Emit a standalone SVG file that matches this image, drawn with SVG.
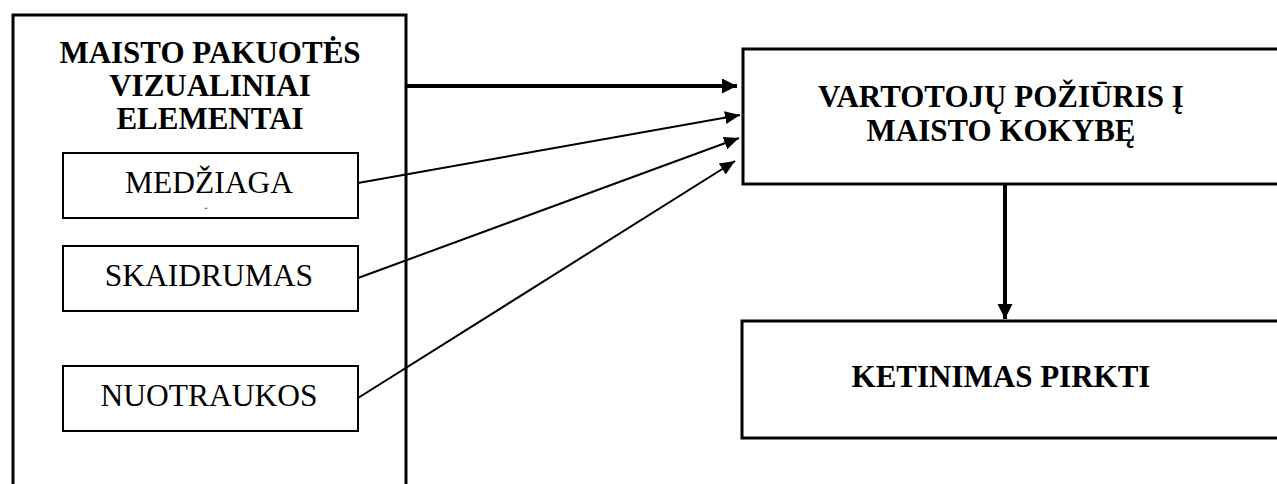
<svg xmlns="http://www.w3.org/2000/svg" width="1277" height="484" viewBox="0 0 1277 484">
<style>
.box{fill:#fff;stroke:#000;stroke-width:3}
.sub{fill:#fff;stroke:#000;stroke-width:2}
.tb{font-family:"Liberation Serif","Times New Roman",serif;font-weight:bold;font-size:31px;text-anchor:middle;fill:#000}
.tr{font-family:"Liberation Serif","Times New Roman",serif;font-size:31.5px;text-anchor:middle;fill:#000}
.thick{stroke:#000;stroke-width:4;fill:none}
.thin{stroke:#000;stroke-width:2;fill:none}
</style>
<defs>
<marker id="ahThick" markerUnits="userSpaceOnUse" markerWidth="16" markerHeight="16" refX="15" refY="7.5" orient="auto">
<path d="M0,0 L15,7.5 L0,15 z" fill="#000"/>
</marker>
<marker id="ahThin" markerUnits="userSpaceOnUse" markerWidth="16" markerHeight="14" refX="15" refY="6.5" orient="auto">
<path d="M0,0 L15,6.5 L0,13 z" fill="#000"/>
</marker>
</defs>
<g id="visual-elements">
<rect class="box" x="13" y="15" width="393" height="490"/>
<text class="tb" x="210" y="63">MAISTO PAKUOTĖS</text>
<text class="tb" x="210" y="96">VIZUALINIAI</text>
<text class="tb" x="210" y="129">ELEMENTAI</text>
</g>
<g id="medziaga">
<rect class="sub" x="63" y="153" width="295" height="65"/>
<text class="tr" x="209" y="193">MEDŽIAGA</text>
<text class="tr" x="206" y="214" style="font-size:9px">ˇ</text>
</g>
<g id="skaidrumas">
<rect class="sub" x="63" y="246" width="295" height="65"/>
<text class="tr" x="209" y="286">SKAIDRUMAS</text>
</g>
<g id="nuotraukos">
<rect class="sub" x="63" y="366" width="295" height="65"/>
<text class="tr" x="209" y="406">NUOTRAUKOS</text>
</g>
<g id="attitude">
<rect class="box" x="743" y="49" width="560" height="135"/>
<text class="tb" x="1001" y="107">VARTOTOJŲ POŽIŪRIS Į</text>
<text class="tb" x="1001" y="141">MAISTO KOKYBĘ</text>
</g>
<g id="intention">
<rect class="box" x="742" y="321" width="560" height="117"/>
<text class="tb" x="1001" y="387">KETINIMAS PIRKTI</text>
</g>
<g id="connectors">
<line class="thick" x1="406" y1="86" x2="737" y2="86" marker-end="url(#ahThick)"/>
<line class="thin" x1="358" y1="183" x2="740" y2="115" marker-end="url(#ahThin)"/>
<line class="thin" x1="358" y1="278" x2="739" y2="138" marker-end="url(#ahThin)"/>
<line class="thin" x1="358" y1="398" x2="735" y2="161" marker-end="url(#ahThin)"/>
<line class="thick" x1="1005" y1="184" x2="1005" y2="319" marker-end="url(#ahThick)"/>
</g>
</svg>
